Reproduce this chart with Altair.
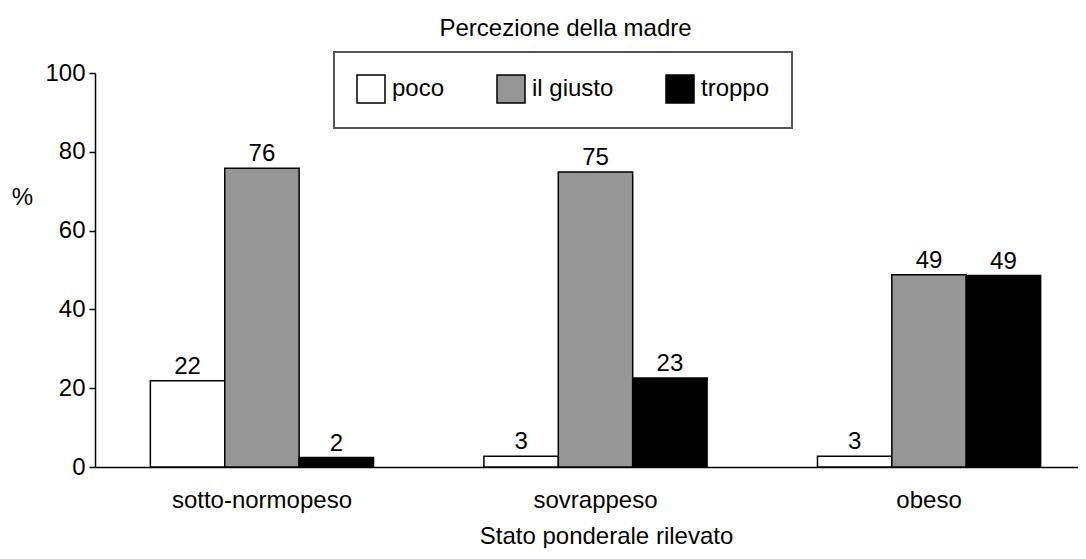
import altair as alt
import pandas as pd

categories = ["sotto-normopeso", "sovrappeso", "obeso"]
series = ["poco", "il giusto", "troppo"]
poco = [21.9, 2.7, 2.7]
il_giusto = [75.8, 74.9, 48.8]
troppo = [2.4, 22.6, 48.6]
colors = ["#ffffff", "#969696", "#000000"]

rows = []
for i, c in enumerate(categories):
    for s, vals in zip(series, [poco, il_giusto, troppo]):
        rows.append({"stato": c, "perc": s, "valore": vals[i]})
df = pd.DataFrame(rows)

FONT = "Liberation Sans"
FS = 24

x = alt.X(
    "stato:N",
    sort=categories,
    scale=alt.Scale(paddingInner=0.331, paddingOuter=0.139, align=0.597),
    axis=alt.Axis(
        title="Stato ponderale rilevato",
        labelAngle=0,
        labelLimit=400,
        ticks=False,
        tickSize=0,
        labelPadding=21,
        labelFontSize=FS,
        labelColor="black",
        labelFont=FONT,
        domainColor="black",
        domainWidth=1.5,
        titleFontSize=FS,
        titleFontWeight="normal",
        titleFont=FONT,
        titleColor="black",
        titleX=511,
        titleY=76,
        titleBaseline="alphabetic",
        titleAlign="center",
    ),
)
y = alt.Y(
    "valore:Q",
    scale=alt.Scale(domain=[0, 100], nice=False),
    axis=alt.Axis(
        title="%",
        values=[0, 20, 40, 60, 80, 100],
        grid=False,
        tickSize=6,
        tickColor="black",
        tickWidth=1.5,
        labelPadding=4,
        labelFontSize=FS,
        labelFont=FONT,
        labelColor="black",
        domainColor="black",
        domainWidth=1.5,
        titleAngle=0,
        titleFontSize=FS,
        titleFontWeight="normal",
        titleFont=FONT,
        titleColor="black",
        titleX=-73,
        titleY=124,
        titleAlign="center",
        titleBaseline="middle",
    ),
)

bars = alt.Chart(df).mark_bar(stroke="black", strokeWidth=1.5).encode(
    x=x,
    xOffset=alt.XOffset("perc:N", sort=series),
    y=y,
    color=alt.Color(
        "perc:N",
        sort=series,
        scale=alt.Scale(domain=series, range=colors),
        legend=alt.Legend(
            title=None,
            orient="none",
            legendX=239,
            legendY=-21,
            direction="horizontal",
            padding=22,
            strokeColor="#555555",
            symbolType="square",
            symbolSize=784,
            symbolStrokeColor="black",
            symbolStrokeWidth=1.5,
            symbolOpacity=1,
            labelFontSize=FS,
            labelFont=FONT,
            labelColor="black",
            labelOffset=6,
            columnPadding=49,
        ),
    ),
)

labels = alt.Chart(df).mark_text(
    baseline="alphabetic", dy=-7, fontSize=FS, font=FONT, color="black"
).encode(
    x=alt.X("stato:N", sort=categories),
    xOffset=alt.XOffset("perc:N", sort=series),
    y=alt.Y("valore:Q"),
    text=alt.Text("valore:Q", format=".0f"),
)

chart = (
    alt.layer(bars, labels)
    .properties(
        width=983,
        height=394,
        title=alt.TitleParams(
            "Percezione della madre",
            fontSize=FS,
            fontWeight="normal",
            font=FONT,
            color="black",
            anchor="middle",
            dx=-21,
            offset=10,
        ),
        autosize=alt.AutoSizeParams(type="none"),
        padding={"left": 87, "top": 65, "right": 0, "bottom": 81},
    )
    .configure_view(stroke=None)
    .configure_legend(strokeWidth=2)
)

chart.save("out.html", embed_options={"renderer": "svg", "actions": False})
